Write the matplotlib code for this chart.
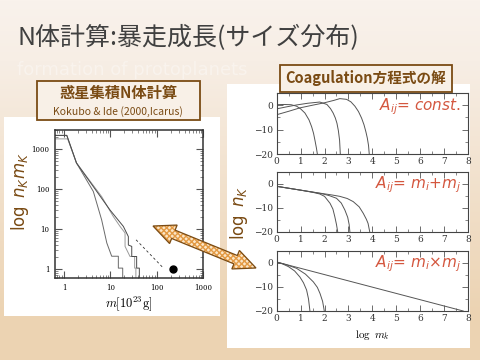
import numpy as np
import matplotlib
matplotlib.use('Agg')
import matplotlib.pyplot as plt
from matplotlib.patches import Rectangle, Polygon
import matplotlib.ticker as mt

# ---------------- data ----------------
title_text = "N体計算:暴走成長(サイズ分布)"
left_box_title = "惑星集積N体計算"
left_box_ref = "Kokubo & Ide (2000,Icarus)"
right_box_title = "Coagulation方程式の解"

# N-body cumulative distributions (m [1e23 g], n_K m_K)
nb1_m = [0.64, 1.15, 1.86, 4.3, 6.5, 8.4, 10.7, 14.9, 14.9, 18.5, 18.5]
nb1_n = [2200, 2200, 450, 87, 17, 4.5, 2.1, 2.1, 1.06, 1.06, 0.5]
nb2_m = [0.64, 1.2, 1.86, 6.5, 11.6, 16.2, 20.8, 20.8, 26.6, 33.5, 33.5, 35.6, 35.6]
nb2_n = [1800, 1800, 450, 65, 20.6, 11.7, 8.0, 3.7, 2.07, 2.07, 1.06, 1.06, 0.5]
nb3_m = [0.64, 1.15, 1.86, 9.85, 19.1, 24.5, 24.5, 29.0, 29.0, 37.0, 37.0, 42.3, 42.3]
nb3_n = [2200, 2200, 450, 30, 11.7, 6.5, 4.0, 3.7, 2.07, 2.07, 1.06, 1.06, 0.5]
slope_m = [36, 140]
slope_n = [5.4, 1.06]
big_m = [224]
big_n = [1.0]
left_ticks = [1, 10, 100, 1000]
left_ticklabels = ["1", "10", "100", "1000"]

# Coagulation solutions: log m_k vs log n_k
const_x = [[0.0, 0.3, 0.6, 0.83, 1.0, 1.18, 1.35, 1.46, 1.54, 1.60, 1.66, 1.70],
           [0.0, 0.4, 0.83, 1.3, 1.8, 2.1, 2.25, 2.36, 2.45, 2.52, 2.58, 2.63, 2.66],
           [0.0, 0.5, 0.97, 1.5, 2.0, 2.4, 2.64, 2.92, 3.1, 3.27, 3.42, 3.55, 3.65, 3.73, 3.79, 3.84, 3.87]]
const_y = [[0.2, 0.3, 0.2, -0.4, -1.5, -3.2, -6.0, -8.8, -11.5, -14.4, -17.5, -20],
           [-1.5, -0.7, 0.1, 0.8, 1.3, 0.3, -1.4, -3.2, -5.2, -7.4, -10.5, -14.4, -20],
           [-3.9, -2.5, -1.1, 0.0, 1.0, 2.0, 2.7, 2.4, 1.4, -0.4, -2.6, -5.3, -8.0, -10.9, -13.5, -16.5, -20]]
sum_x = [[0.0, 0.5, 1.0, 1.5, 1.8, 2.0, 2.23, 2.35, 2.43, 2.5, 2.55],
         [0.0, 0.5, 1.0, 1.5, 1.9, 2.2, 2.5, 2.7, 2.85, 2.97, 3.03, 3.06],
         [0.0, 0.5, 1.0, 1.5, 1.9, 2.3, 2.64, 2.95, 3.2, 3.45, 3.62, 3.75, 3.82, 3.89]]
sum_y = [[-1.0, -1.8, -2.6, -3.5, -4.2, -5.2, -8.1, -10.5, -13.7, -17.0, -20],
         [-1.0, -1.8, -2.6, -3.4, -4.1, -4.9, -6.0, -8.0, -10.9, -14.0, -17.0, -20],
         [-1.0, -1.8, -2.6, -3.4, -4.0, -4.6, -5.2, -6.1, -7.4, -9.6, -12.3, -14.8, -16.5, -20]]
prod_x = [[0.0, 0.25, 0.49, 0.75, 0.97, 1.12, 1.25, 1.33, 1.39],
          [0.0, 0.4, 0.83, 1.2, 1.53, 1.7, 1.81, 1.92, 1.99],
          [0.0, 7.8]]
prod_y = [[0.3, -0.5, -1.6, -3.4, -5.9, -8.3, -11.3, -15.0, -20],
          [0.3, -0.8, -2.3, -4.7, -7.9, -10.2, -12.7, -16.0, -20],
          [0.3, -20]]
kernel_labels = [r"$A_{ij}$= $const.$", r"$A_{ij}$= $m_i$+$m_j$", r"$A_{ij}$= $m_i$×$m_j$"]
rx_ticks = [0, 1, 2, 3, 4, 5, 6, 7, 8]
ry_ticks = [0, -10, -20]
ry_ticklabels = ["0", "\u221210", "\u221220"]

# ---------------- figure ----------------
W, H = 480, 360
fig = plt.figure(figsize=(4.8, 3.6), dpi=100)

brown = '#7a4b14'
red = '#d4573f'

# background axes (pixel coords)
bg = fig.add_axes([0, 0, 1, 1], zorder=-10)
bg.set_xlim(0, W); bg.set_ylim(H, 0); bg.axis('off')
c_top = np.array([249, 242, 236]) / 255
c_mid = np.array([247, 238, 229]) / 255
c_bot = np.array([236, 211, 178]) / 255
grad = np.zeros((H, 1, 3))
for i in range(H):
    if i < 60:
        t = i / 60.0
        grad[i, 0] = c_top * (1 - t) + c_mid * t
    elif i < 316:
        t = (i - 60) / 256.0
        grad[i, 0] = c_mid * (1 - t) + c_bot * t
    else:
        grad[i, 0] = c_bot
bg.imshow(grad, extent=(0, W, H, 0), aspect='auto', zorder=0)

# faint background text
bg.text(17, 70, "formation of protoplanets", fontsize=13, color='#f9f3ed',
        family='DejaVu Sans', va='center', ha='left', zorder=1)
# title
bg.text(17, 38, title_text, fontsize=18, color='#404040',
        family=['Noto Sans CJK JP', 'DejaVu Sans'], va='center', ha='left', zorder=2)
# white panels
bg.add_patch(Rectangle((4, 117), 216, 199, facecolor='white', edgecolor='none', zorder=2))
bg.add_patch(Rectangle((227, 84), 243, 264, facecolor='white', edgecolor='none', zorder=2))

# left box
bg.add_patch(Rectangle((36.5, 81), 163.5, 39, facecolor='#f8f0e7', edgecolor=brown, lw=1.3, zorder=3))
bg.text(118, 93, left_box_title, fontsize=11, fontweight='bold', color=brown,
        family=['Noto Sans CJK JP', 'DejaVu Sans'], ha='center', va='center', zorder=4)
bg.text(118, 111.5, left_box_ref, fontsize=7.5, color=brown,
        family=['Noto Sans CJK JP', 'DejaVu Sans'], ha='center', va='center', zorder=4)
# right box
bg.add_patch(Rectangle((280, 64.5), 172, 27.5, facecolor='#f8f0e7', edgecolor=brown, lw=1.3, zorder=3))
bg.text(366, 78, right_box_title, fontsize=10.5, fontweight='bold', color=brown,
        family=['Noto Sans CJK JP', 'DejaVu Sans'], ha='center', va='center', zorder=4)

# y labels
bg.text(20, 192, r"$\log\ n_K m_K$", fontsize=12, color=brown, rotation=90,
        ha='center', va='center', math_fontfamily='dejavusans', zorder=4)
bg.text(239, 213, r"$\log\ n_K$", fontsize=12, color=brown, rotation=90,
        ha='center', va='center', math_fontfamily='dejavusans', zorder=4)

# ---------------- left N-body plot ----------------
axL = fig.add_axes([55 / W, 1 - 278 / H, 148 / W, 148 / H])
axL.set_xscale('log'); axL.set_yscale('log')
axL.set_xlim(0.64, 1000); axL.set_ylim(0.6, 3000)
axL.plot(nb1_m, nb1_n, color='#6a6a6a', lw=0.7)
axL.plot(nb2_m, nb2_n, color='#9a9a9a', lw=0.7)
axL.plot(nb3_m, nb3_n, color='#4a4a4a', lw=0.7)
axL.plot(slope_m, slope_n, color='#333333', lw=0.6, ls=(0, (3, 3)))
axL.plot(big_m, big_n, 'o', color='black', ms=5)
axL.set_xticks(left_ticks); axL.set_xticklabels(left_ticklabels)
axL.set_yticks(left_ticks); axL.set_yticklabels(left_ticklabels)
axL.xaxis.set_minor_locator(mt.LogLocator(base=10, subs=np.arange(2, 10)))
axL.yaxis.set_minor_locator(mt.LogLocator(base=10, subs=np.arange(2, 10)))
axL.xaxis.set_minor_formatter(mt.NullFormatter())
axL.yaxis.set_minor_formatter(mt.NullFormatter())
axL.tick_params(which='both', direction='in', top=True, right=True, labelsize=5,
                color='#555555', pad=4)
axL.tick_params(which='major', length=5, width=0.8)
axL.tick_params(which='minor', length=2.5, width=0.5)
for lab in axL.get_xticklabels() + axL.get_yticklabels():
    lab.set_family('DejaVu Serif')
for s in axL.spines.values():
    s.set_linewidth(1.1); s.set_color('#333333')
axL.set_xlabel(r"$m[10^{23}{\rm g}]$", fontsize=9, math_fontfamily='cm', labelpad=2)

# ---------------- right coagulation plots ----------------
rx0, rw = 276.7 / W, 191.3 / W
panels = [(93, 154), (172, 231.7), (250.7, 311)]
series = [(const_x, const_y), (sum_x, sum_y), (prod_x, prod_y)]
for k, ((top, bot), (xs, ys)) in enumerate(zip(panels, series)):
    ax = fig.add_axes([rx0, 1 - bot / H, rw, (bot - top) / H])
    for x, y in zip(xs, ys):
        ax.plot(x, y, color='#555555', lw=0.7)
    ax.set_xlim(0, 8); ax.set_ylim(-20, 5)
    ax.set_xticks(rx_ticks); ax.set_xticklabels([str(v) for v in rx_ticks])
    ax.set_yticks(ry_ticks); ax.set_yticklabels(ry_ticklabels)
    ax.xaxis.set_minor_locator(mt.MultipleLocator(0.5))
    ax.yaxis.set_minor_locator(mt.MultipleLocator(5))
    ax.tick_params(which='both', direction='in', top=True, right=True, labelsize=6.5,
                   color='#555555', labelcolor='#333333', pad=2.5)
    ax.tick_params(which='major', length=4, width=0.6)
    ax.tick_params(which='minor', length=2, width=0.5)
    for lab in ax.get_xticklabels() + ax.get_yticklabels():
        lab.set_family('DejaVu Serif')
    for s in ax.spines.values():
        s.set_linewidth(0.8); s.set_color('#444444')
    ax.text(0.965, 0.78, kernel_labels[k], transform=ax.transAxes, fontsize=11,
            color=red, ha='right', va='center', style='italic',
            family='DejaVu Sans', math_fontfamily='dejavusans')
    if k == 2:
        ax.set_xlabel(r"$\log\ m_k$", fontsize=8, math_fontfamily='cm', labelpad=3)

# ---------------- overlay arrow ----------------
ov = fig.add_axes([0, 0, 1, 1], zorder=20)
ov.set_xlim(0, W); ov.set_ylim(H, 0); ov.axis('off'); ov.patch.set_alpha(0)
p1 = np.array([153.0, 226.0]); p2 = np.array([256.0, 268.0])
u = (p2 - p1) / np.linalg.norm(p2 - p1)
nv = np.array([-u[1], u[0]])
hl, hw, bw = 22.0, 10.0, 4.5
pts = [p1, p1 + hl * u + hw * nv, p1 + hl * u + bw * nv, p2 - hl * u + bw * nv,
       p2 - hl * u + hw * nv, p2, p2 - hl * u - hw * nv, p2 - hl * u - bw * nv,
       p1 + hl * u - bw * nv, p1 + hl * u - hw * nv]
ov.add_patch(Polygon(pts, closed=True, facecolor='#fbe6c8', edgecolor='#e39a44',
                     hatch='xxxxxx', lw=0))
ov.add_patch(Polygon(pts, closed=True, facecolor='none', edgecolor='#7a4b14', lw=0.9))

fig.savefig('out.png', dpi=100)
